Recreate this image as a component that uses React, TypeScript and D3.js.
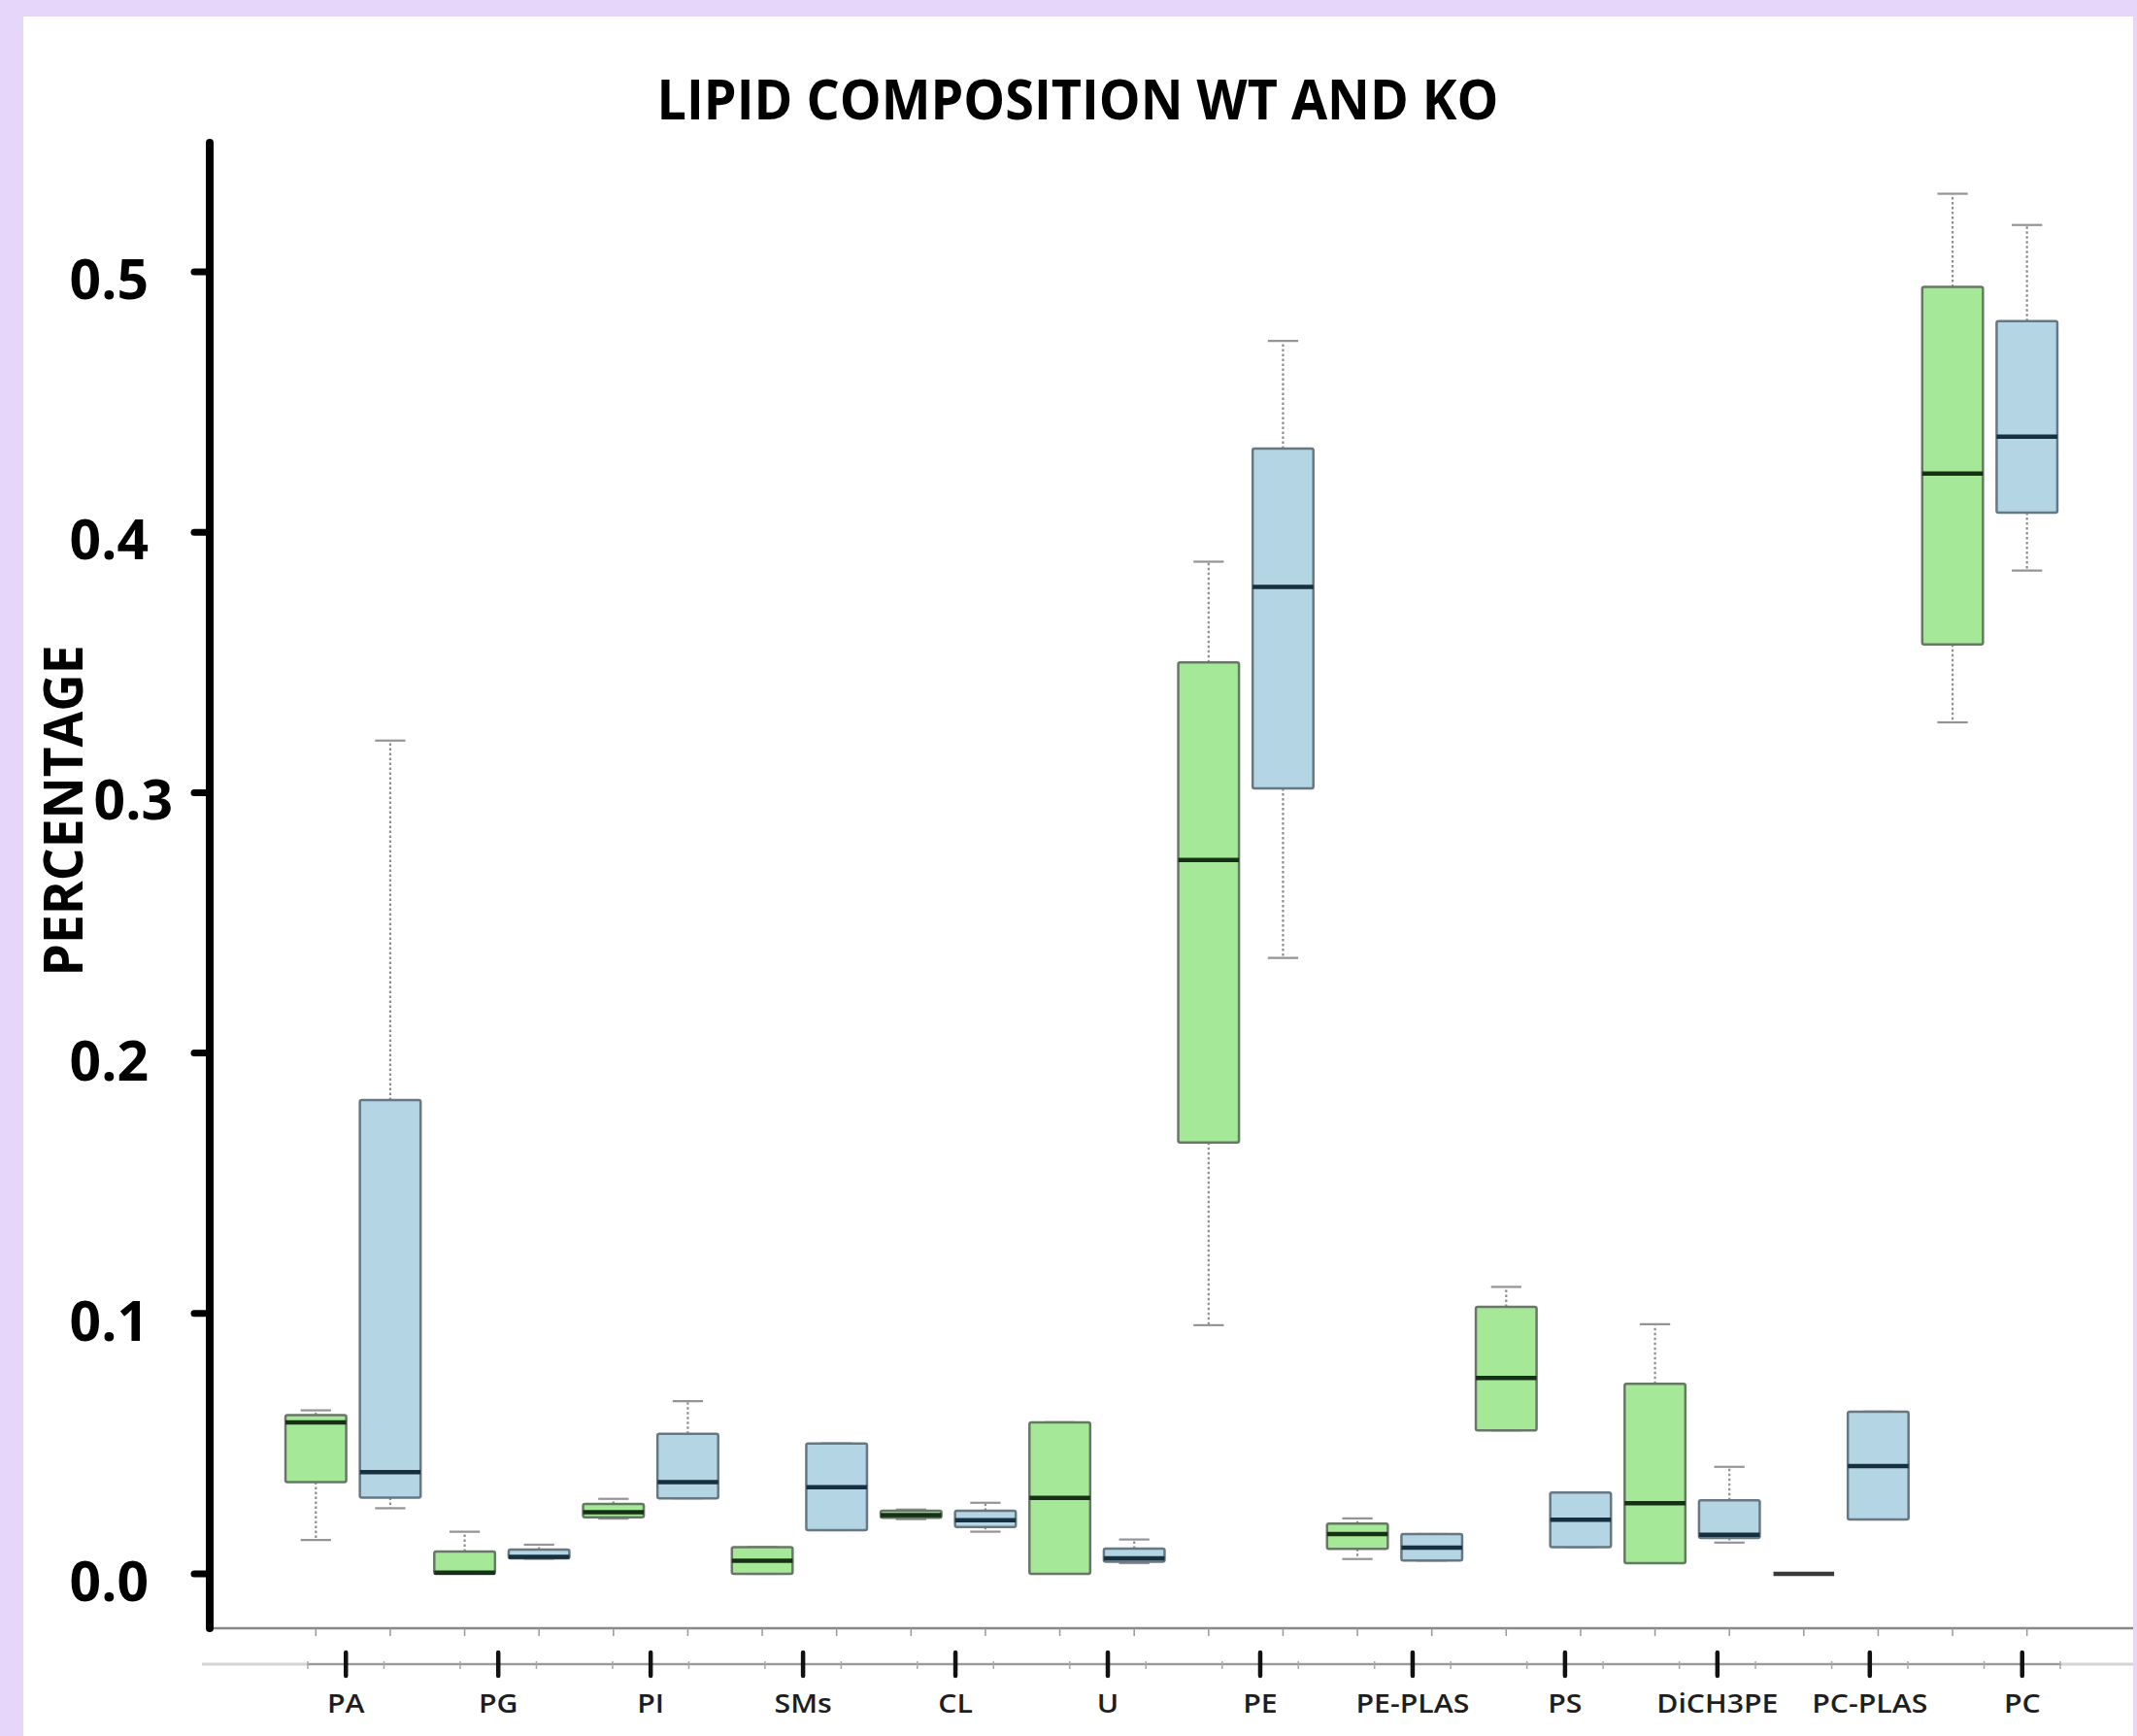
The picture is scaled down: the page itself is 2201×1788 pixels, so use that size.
import React from 'react';
import * as d3 from 'd3';

const categories = ['PA', 'PG', 'PI', 'SMs', 'CL', 'U', 'PE', 'PE-PLAS', 'PS', 'DiCH3PE', 'PC-PLAS', 'PC'];
const groups = ['WT', 'KO'];

// WT statistics (min, q1, median, q3, max)
const wtMin = [0.0130, 0.0, 0.0212, 0.0, 0.0210, 0.0, 0.0955, 0.0057, 0.0551, 0.0041, 0.0, 0.327];
const wtQ1 = [0.0352, 0.0, 0.0217, 0.0, 0.0215, 0.0, 0.1656, 0.0096, 0.0551, 0.0041, 0.0, 0.3569];
const wtMedian = [0.0582, 0.0005, 0.0237, 0.0050, 0.0226, 0.0292, 0.2741, 0.0153, 0.0752, 0.0271, 0.0, 0.4225];
const wtQ3 = [0.0610, 0.0086, 0.0268, 0.0103, 0.0242, 0.0582, 0.3500, 0.0193, 0.1025, 0.0730, 0.0, 0.4942];
const wtMax = [0.0628, 0.0162, 0.0288, 0.0103, 0.0247, 0.0582, 0.3887, 0.0213, 0.1102, 0.0959, 0.0, 0.530];

// KO statistics
const koMin = [0.0252, 0.0058, 0.0290, 0.0168, 0.0162, 0.0041, 0.2365, 0.0051, 0.0103, 0.0120, 0.0209, 0.3853];
const koQ1 = [0.0293, 0.0060, 0.0290, 0.0168, 0.0180, 0.0047, 0.3016, 0.0051, 0.0103, 0.0138, 0.0209, 0.4075];
const koMedian = [0.0391, 0.0065, 0.0352, 0.0333, 0.0206, 0.0060, 0.3790, 0.0101, 0.0208, 0.0150, 0.0414, 0.4367];
const koQ3 = [0.182, 0.0093, 0.0538, 0.0501, 0.0242, 0.0097, 0.4321, 0.0153, 0.0312, 0.0282, 0.0623, 0.4811];
const koMax = [0.320, 0.0112, 0.0663, 0.0501, 0.0273, 0.0132, 0.4735, 0.0153, 0.0312, 0.0411, 0.0623, 0.518];

const yTicks = [0, 0.1, 0.2, 0.3, 0.4, 0.5];

const W = 2201;
const H = 1788;
const FONT = "'Open Sans', 'DejaVu Sans', sans-serif";

const fillColors: Record<string, string> = { WT: '#a5e897', KO: '#b4d5e4' };
const medianColors: Record<string, string> = { WT: '#163016', KO: '#17303f' };
const strokeColors: Record<string, string> = { WT: '#687866', KO: '#687882' };

export default function App() {
  const y = d3.scaleLinear().domain([0, 0.5]).range([1621, 280]);
  const xBand = d3.scaleBand<string>().domain(categories).range([287, 2126]);
  const xSub = d3
    .scaleBand<string>()
    .domain(groups)
    .range([0, xBand.bandwidth()])
    .paddingInner(0.184)
    .paddingOuter(0.092);
  const bw = xSub.bandwidth();

  const boxes = categories.flatMap((c, i) => [
    { cat: c, g: 'WT', min: wtMin[i], q1: wtQ1[i], med: wtMedian[i], q3: wtQ3[i], max: wtMax[i] },
    { cat: c, g: 'KO', min: koMin[i], q1: koQ1[i], med: koMedian[i], q3: koQ3[i], max: koMax[i] },
  ]);

  // lower (label) axis
  const lowerX = d3.scaleLinear().domain([0, 23]).range([317, 2122]);
  const minorTicks = d3.range(0, 24);
  const axisX = 216;
  const upperY = 1677;
  const lowerY = 1714;

  const fmt = d3.format('.1f');

  return (
    <svg
      width={W}
      height={H}
      viewBox={`0 0 ${W} ${H}`}
      style={{ position: 'absolute', left: 0, top: 0, display: 'block' }}
    >
      <rect x={0} y={0} width={W} height={H} fill="#e6d6fa" />
      <rect x={24} y={17} width={2197 - 24} height={H - 17} fill="#ffffff" />

      {/* title */}
      <text
        x={1110}
        y={123}
        textAnchor="middle"
        fontFamily={FONT}
        fontWeight={700}
        fontSize={57}
        textLength={867}
        lengthAdjust="spacingAndGlyphs"
        fill="#000"
      >
        LIPID COMPOSITION WT AND KO
      </text>

      {/* y axis title */}
      <text
        transform={`translate(85, 835) rotate(-90)`}
        textAnchor="middle"
        fontFamily={FONT}
        fontWeight={700}
        fontSize={56}
        textLength={341}
        lengthAdjust="spacingAndGlyphs"
        fill="#000"
      >
        PERCENTAGE
      </text>

      {/* upper x axis line with ticks at each box */}
      <line x1={axisX} x2={2197} y1={upperY} y2={upperY} stroke="#888" strokeWidth={2.5} />
      {boxes.map((b, i) => {
        const cx = (xBand(b.cat) as number) + (xSub(b.g) as number) + bw / 2;
        return (
          <line key={`ut${i}`} x1={cx} x2={cx} y1={upperY} y2={upperY + 8} stroke="#999" strokeWidth={1.5} />
        );
      })}

      {/* lower x axis */}
      <line x1={208} x2={2197} y1={lowerY} y2={lowerY} stroke="#d4d4d4" strokeWidth={3} />
      <line x1={lowerX(0)} x2={lowerX(23)} y1={lowerY} y2={lowerY} stroke="#9a9a9a" strokeWidth={2} />
      {minorTicks.map((t) => (
        <line
          key={`mt${t}`}
          x1={lowerX(t)}
          x2={lowerX(t)}
          y1={lowerY - 3}
          y2={lowerY + 5}
          stroke="#a8a8a8"
          strokeWidth={1.5}
        />
      ))}
      {categories.map((c, k) => {
        const px = lowerX(2 * k + 0.5);
        return (
          <g key={`lab${c}`}>
            <line x1={px} x2={px} y1={1702} y2={1726} stroke="#111" strokeWidth={4.5} strokeLinecap="round" />
            <text
              transform={`translate(${px}, 1764) scale(1.12, 1)`}
              textAnchor="middle"
              fontFamily={FONT}
              fontWeight={600}
              fontSize={27}
              fill="#1e1e1e"
            >
              {c}
            </text>
          </g>
        );
      })}

      {/* boxes */}
      {boxes.map((b, i) => {
        const x0 = (xBand(b.cat) as number) + (xSub(b.g) as number);
        const cx = x0 + bw / 2;
        const capW = bw / 2;
        return (
          <g key={`box${i}`}>
            <line x1={cx} x2={cx} y1={y(b.q3)} y2={y(b.max)} stroke="#8e8e8e" strokeWidth={2.2} strokeDasharray="2.5 2.5" />
            <line x1={cx} x2={cx} y1={y(b.q1)} y2={y(b.min)} stroke="#8e8e8e" strokeWidth={2.2} strokeDasharray="2.5 2.5" />
            <line x1={cx - capW / 2} x2={cx + capW / 2} y1={y(b.max)} y2={y(b.max)} stroke="#949494" strokeWidth={2.2} />
            <line x1={cx - capW / 2} x2={cx + capW / 2} y1={y(b.min)} y2={y(b.min)} stroke="#949494" strokeWidth={2.2} />
            <rect
              x={x0}
              y={y(b.q3)}
              width={bw}
              height={Math.max(0, y(b.q1) - y(b.q3))}
              fill={fillColors[b.g]}
              stroke={strokeColors[b.g]}
              strokeWidth={2.5}
              rx={2}
            />
            <line x1={x0} x2={x0 + bw} y1={y(b.med)} y2={y(b.med)} stroke={b.q3 === b.q1 ? '#3a3a3a' : medianColors[b.g]} strokeWidth={4.5} />
          </g>
        );
      })}

      {/* y axis */}
      <line x1={axisX} x2={axisX} y1={147} y2={1677} stroke="#000" strokeWidth={8} strokeLinecap="round" />
      {yTicks.map((t) => (
        <g key={`yt${t}`}>
          <line x1={200} x2={axisX} y1={y(t)} y2={y(t)} stroke="#000" strokeWidth={7} strokeLinecap="round" />
          <text
            x={t === 0.3 ? 178 : 153}
            y={y(t) + 28}
            textAnchor="end"
            fontFamily={FONT}
            fontWeight={700}
            fontSize={57}
            fill="#000"
          >
            {fmt(t)}
          </text>
        </g>
      ))}
    </svg>
  );
}
